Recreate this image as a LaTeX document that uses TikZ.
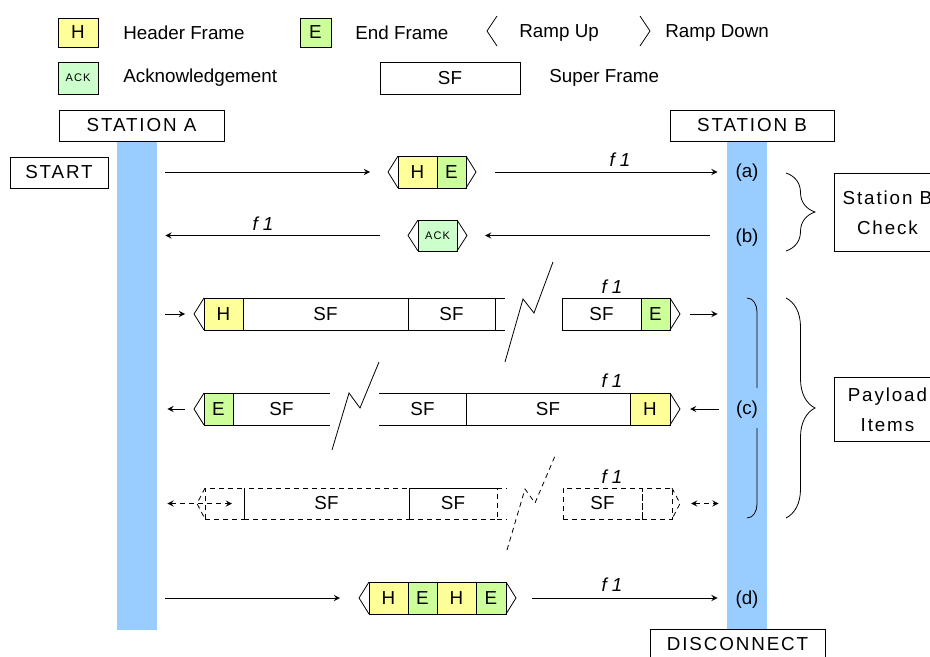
\documentclass[tikz,border=0pt]{standalone}
\usepackage{fontspec}
\setmainfont{Liberation Sans}
\newfontfamily\spacedfont[LetterSpace=10]{Liberation Sans}
\usepackage{tikz}
\usetikzlibrary{positioning,decorations.pathreplacing}
\definecolor{hdryellow}{HTML}{FFFF99}
\definecolor{endgreen}{HTML}{CCFF99}
\definecolor{ackgreen}{HTML}{CCFFCC}
\definecolor{barblue}{HTML}{99CCFF}

\begin{document}
\begin{tikzpicture}[
    x=0.5pt, y=-0.5pt,
    font=\fontsize{9.4}{11}\selectfont,
    cell/.style={rectangle, draw, minimum height=16pt, inner sep=0pt, outer sep=0pt},
    hdr/.style={cell, fill=hdryellow, minimum width=19.5pt},
    endf/.style={cell, fill=endgreen, minimum width=14.5pt},
    ackf/.style={cell, fill=ackgreen, minimum width=19.5pt, font=\spacedfont\fontsize{5.5}{6}\selectfont},
    sfbox/.style={cell, minimum width=#1},
    opencell/.style={cell, draw=none, minimum width=#1},
    ghost/.style={cell, dash pattern=on 2.5pt off 2pt, minimum width=#1},
    gline/.style={dash pattern=on 2.5pt off 2pt},
    station/.style={rectangle, draw, minimum width=82.5pt, minimum height=15.5pt, font=\spacedfont\fontsize{9.4}{11}\selectfont},
    bar/.style={rectangle, fill=barblue, minimum width=20pt, inner sep=0pt, anchor=north},
    msg/.style={->, >=stealth},
    gmsg/.style={<->, >=stealth, gline},
    freq/.style={font=\itshape\fontsize{9.4}{11}\selectfont},
    legtext/.style={inner sep=0pt, anchor=west},
    note/.style={rectangle, draw, align=center, minimum width=53pt, anchor=north west, font=\spacedfont\fontsize{9.4}{15}\selectfont},
    brc/.style={decorate, decoration={brace, amplitude=14.5pt}}
]
    \useasboundingbox (0,0) rectangle (930,657);

    % legend
    \node[hdr, minimum width=20pt, minimum height=14.5pt] (legH) at (78,32.5) {H};
    \node[legtext, right=12.5pt of legH] (legHtxt) {Header Frame};
    \node[endf, minimum width=15.5pt, minimum height=14.5pt] (legE) at (315.5,32.5) {E};
    \node[legtext, right=12pt of legE] (legEtxt) {End Frame};
    \draw (497,16) -- (487,31) -- (497,46);
    \node[legtext] (legUp) at (519,33) {Ramp Up};
    \draw (640,16) -- (650,31) -- (640,46);
    \node[legtext] (legDown) at (665,33) {Ramp Down};
    \node[ackf, minimum width=20pt] (legAck) at (78,78) {ACK};
    \node[legtext, right=12.5pt of legAck] (legAcktxt) {Acknowledgement};
    \node[sfbox=70pt] (legSF) at (450,78) {SF};
    \node[legtext, right=14.5pt of legSF] (legSFtxt) {Super Frame};

    % stations
    \node[bar, minimum height=244.5pt] (barA) at (137,141) {};
    \node[bar, minimum height=244pt] (barB) at (747,141) {};
    \node[station] (stA) at (141.5,125.5) {STATION A};
    \node[station, minimum width=82pt] (stB) at (752,125.5) {STATION B};
    \node[station, minimum width=49pt] (start) at (59,172.5) {START};
    \node[station, minimum width=87.5pt] (disc) at (737.5,644.5) {DISCONNECT};

    % (a) header + end frame
    \node[hdr] (r1h) at (417.5,172) {H};
    \node[endf, right=0pt of r1h] (r1e) {E};
    \draw (r1h.north west) -- ([xshift=-5pt]r1h.west) -- (r1h.south west);
    \draw (r1e.north east) -- ([xshift=5pt]r1e.east) -- (r1e.south east);
    \draw[msg] ([xshift=4pt]barA.east |- r1h.west) -- ([xshift=-14pt]r1h.west);
    \draw[msg] ([xshift=14.5pt]r1e.east) -- ([xshift=-4.5pt]barB.west |- r1e.east);
    \node[freq] (r1f) at (620,160) {f 1};
    \node (lblA) at (747,173) {(a)};

    % (b) acknowledgement
    \node[ackf, minimum height=15.5pt] (r2ack) at (437.5,235.5) {ACK};
    \draw (r2ack.north west) -- ([xshift=-5pt]r2ack.west) -- (r2ack.south west);
    \draw (r2ack.north east) -- ([xshift=5pt]r2ack.east) -- (r2ack.south east);
    \draw[msg] ([xshift=-19pt]r2ack.west) -- ([xshift=4pt]barA.east |- r2ack.west);
    \draw[msg] ([xshift=-8.5pt]barB.west |- r2ack.east) -- ([xshift=14pt]r2ack.east);
    \node[freq] (r2f) at (263,224) {f 1};
    \node (lblB) at (747,238) {(b)};

    \draw[brc] (786,173) -- (786,251);
    \node[note, minimum height=39pt] (chk) at (834,173) {Station B\\Check};

    % (c) payload, A to B
    \node[hdr] (r3h) at (223.5,314) {H};
    \node[sfbox=82.5pt, right=0pt of r3h] (r3sf1) {SF};
    \node[sfbox=43.5pt, right=0pt of r3sf1] (r3sf2) {SF};
    \draw (r3sf2.north east) -- ++(10,0) (r3sf2.south east) -- ++(10,0);
    \draw (r3h.north west) -- ([xshift=-5pt]r3h.west) -- (r3h.south west);
    \draw[msg] ([xshift=4pt]barA.east |- r3h.west) -- ([xshift=-9.5pt]r3h.west);
    \draw (505,362) -- (523,299) -- (534,313) -- (553,262);
    \node[sfbox=39.5pt] (r3sf3) at (601.5,314) {SF};
    \node[endf, right=0pt of r3sf3] (r3e) {E};
    \draw (r3e.north east) -- ([xshift=5pt]r3e.east) -- (r3e.south east);
    \draw[msg] ([xshift=10pt]r3e.east) -- ([xshift=-4.5pt]barB.west |- r3e.east);
    \node[freq] (r3f) at (612,287) {f 1};

    % (c) payload, B to A
    \node[endf] (r4e) at (218.5,409) {E};
    \node[opencell=48.5pt, right=0pt of r4e] (r4sf1) {SF};
    \draw (r4e.north east) -- (r4sf1.north east) (r4e.south east) -- (r4sf1.south east);
    \draw (r4e.north west) -- ([xshift=-5pt]r4e.west) -- (r4e.south west);
    \draw[msg] ([xshift=-9.5pt]r4e.west) -- ([xshift=5pt]barA.east |- r4e.west);
    \draw (332,450) -- (349,393) -- (360,408) -- (379,362);
    \node[opencell=43.5pt] (r4sf2) at (422.5,409) {SF};
    \node[sfbox=82pt, right=0pt of r4sf2] (r4sf3) {SF};
    \node[hdr, minimum width=20pt, right=0pt of r4sf3] (r4h) {H};
    \draw (r4sf2.north west) -- (r4sf2.north east) (r4sf2.south west) -- (r4sf2.south east);
    \draw (r4h.north east) -- ([xshift=5pt]r4h.east) -- (r4h.south east);
    \draw[msg] ([xshift=-4pt]barB.west |- r4h.east) -- ([xshift=10pt]r4h.east);
    \node[freq] (r4f) at (612,381) {f 1};

    % (c) payload, further items
    \node[ghost=19.5pt, minimum height=15.5pt] (r5c1) at (224.5,503.5) {};
    \node[ghost=82.5pt, minimum height=15.5pt, right=0pt of r5c1] (r5sf1) {SF};
    \node[ghost=44pt, minimum height=15.5pt, right=0pt of r5sf1] (r5sf2) {SF};
    \draw (r5sf1.north west) -- (r5sf1.south west) (r5sf2.south west) -- (r5sf2.north west) -- (r5sf2.north east);
    \draw[gline] (r5sf2.north east) -- ++(10,0) (r5sf2.south east) -- ++(10,0);
    \draw[gline] (r5c1.north west) -- ([xshift=-4pt]r5c1.west) -- (r5c1.south west);
    \draw[gmsg] ([xshift=5pt]barA.east |- r5c1.west) -- ([xshift=-6pt]r5c1.east);
    \draw[gline] (507,550) -- (525,489) -- (535,503) -- (555,456);
    \node[ghost=39.5pt, minimum height=15.5pt] (r5sf3) at (602.5,503.5) {SF};
    \node[ghost=15pt, minimum height=15.5pt, right=0pt of r5sf3] (r5c2) {};
    \draw[gline] (r5c2.north east) -- ([xshift=4pt]r5c2.east) -- (r5c2.south east);
    \draw[gmsg] ([xshift=9.5pt]r5c2.east) -- ([xshift=-4pt]barB.west |- r5c2.east);
    \node[freq] (r5f) at (612,477) {f 1};

    \draw (747,298) to[out=0, in=90] (757,312) -- (757,388);
    \draw (757,428) -- (757,504) to[out=-90, in=0] (747,518);
    \node (lblC) at (747,410) {(c)};
    \draw[brc] (786,298) -- (786,518);
    \node[note, minimum height=32pt] (pay) at (834,377) {Payload\\Items};

    % (d) disconnect
    \node[hdr] (r6h1) at (388.5,598) {H};
    \node[endf, right=0pt of r6h1] (r6e1) {E};
    \node[hdr, right=0pt of r6e1] (r6h2) {H};
    \node[endf, minimum width=15pt, right=0pt of r6h2] (r6e2) {E};
    \draw (r6h1.north west) -- ([xshift=-5pt]r6h1.west) -- (r6h1.south west);
    \draw (r6e2.north east) -- ([xshift=5pt]r6e2.east) -- (r6e2.south east);
    \draw[msg] ([xshift=4pt]barA.east |- r6h1.west) -- ([xshift=-14.5pt]r6h1.west);
    \draw[msg] ([xshift=13pt]r6e2.east) -- ([xshift=-4.5pt]barB.west |- r6e2.east);
    \node[freq] (r6f) at (612,585) {f 1};
    \node (lblD) at (747,600) {(d)};
\end{tikzpicture}
\end{document}
